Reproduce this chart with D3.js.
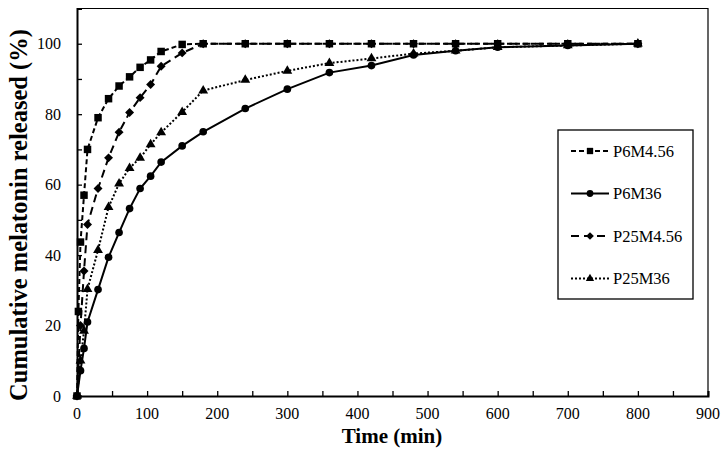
<!DOCTYPE html>
<html>
<head>
<meta charset="utf-8">
<script src="https://cdn.jsdelivr.net/npm/d3@7"></script>
<style>
  html, body { margin: 0; padding: 0; background: #fff; }
  svg { display: block; }
  text { font-family: "Liberation Serif", "Times New Roman", serif; fill: #000; }
</style>
</head>
<body>
<div id="chart"></div>
<script>
// ---------- data ----------
const timesA = [0, 2, 5, 10, 15, 30, 45, 60, 75, 90, 105, 120, 150, 180, 240, 300, 360, 420, 480, 540, 600, 700, 800];
const p6m456 = [0, 24, 43.7, 57, 70, 79, 84.4, 88, 90.6, 93.3, 95.4, 97.8, 99.8, 100, 100, 100, 100, 100, 100, 100, 100, 100, 100];

const timesB = [0, 5, 10, 15, 30, 45, 60, 75, 90, 105, 120, 150, 180, 240, 300, 360, 420, 480, 540, 600, 700, 800];
const p6m36  = [0, 7.2, 13.5, 21, 30.2, 39.4, 46.4, 53.2, 58.9, 62.4, 66.4, 71, 75, 81.6, 87.1, 91.8, 93.8, 96.8, 98, 99, 99.5, 100];
const p25m456 = [0, 20, 35.5, 48.7, 58.9, 67.6, 74.9, 80.5, 84.7, 88.4, 93.6, 97.4, 100, 100, 100, 100, 100, 100, 100, 100, 100, 100];
const p25m36 = [0, 10, 18.5, 30.3, 41.4, 53.6, 60.3, 64.7, 67.6, 71.4, 74.8, 80.6, 86.7, 89.7, 92.3, 94.5, 95.8, 97.2, 98, 99, 99.5, 100];

const seriesNames = ["P6M4.56", "P6M36", "P25M4.56", "P25M36"];
const xTickLabels = [0, 100, 200, 300, 400, 500, 600, 700, 800, 900];
const yTickLabels = [0, 20, 40, 60, 80, 100];
const xTitle = "Time (min)";
const yTitle = "Cumulative melatonin released (%)";

// ---------- layout ----------
const W = 728, H = 460;
const x = d3.scaleLinear().domain([0, 900]).range([77, 708]);
const y = d3.scaleLinear().domain([0, 110]).range([396, 8.5]);

const svg = d3.select("#chart").append("svg").attr("width", W).attr("height", H);

// plot box (top and right)
svg.append("path")
  .attr("d", `M${x(0)},${y(110)}H${x(900)}V${y(0)}`)
  .attr("fill", "none").attr("stroke", "#000").attr("stroke-width", 1.2);

// axes with inward ticks
const xAxis = d3.axisBottom(x).tickValues(d3.range(0, 901, 50)).tickSize(-5).tickFormat("");
const yAxis = d3.axisLeft(y).tickValues(d3.range(0, 111, 10)).tickSize(-5).tickFormat("");

const gx = svg.append("g").attr("transform", `translate(0,${y(0)})`).call(xAxis);
const gy = svg.append("g").attr("transform", `translate(${x(0)},0)`).call(yAxis);
[gx, gy].forEach(g => {
  g.select(".domain").attr("stroke", "#000").attr("stroke-width", 2);
  g.selectAll(".tick line").attr("stroke", "#000").attr("stroke-width", 1.3);
});

// tick labels
svg.append("g").selectAll("text").data(xTickLabels).join("text")
  .attr("x", d => x(d)).attr("y", 419)
  .attr("text-anchor", "middle").attr("font-size", 16)
  .text(d => d);
svg.append("g").selectAll("text").data(yTickLabels).join("text")
  .attr("x", 61).attr("y", d => y(d)).attr("dy", "0.35em")
  .attr("text-anchor", "end").attr("font-size", 16)
  .text(d => d);

// titles
svg.append("text").attr("x", 392).attr("y", 443)
  .attr("text-anchor", "middle").attr("font-size", 21).attr("font-weight", "bold")
  .text(xTitle);
svg.append("text")
  .attr("transform", `translate(27,215) rotate(-90)`)
  .attr("text-anchor", "middle").attr("font-size", 24.5).attr("font-weight", "bold")
  .text(yTitle);

// ---------- symbols ----------
const sqType = { draw(ctx, s) { const r = Math.sqrt(s) / 2; ctx.moveTo(-r, -r); ctx.lineTo(r, -r); ctx.lineTo(r, r); ctx.lineTo(-r, r); ctx.closePath(); } };
const diaType = { draw(ctx, s) { const r = Math.sqrt(s) / Math.SQRT2; ctx.moveTo(0, -r); ctx.lineTo(r, 0); ctx.lineTo(0, r); ctx.lineTo(-r, 0); ctx.closePath(); } };

const series = [
  { name: seriesNames[0], t: timesA, v: p6m456, dash: "5,3", sym: sqType, size: 56, lsize: 40 },
  { name: seriesNames[1], t: timesB, v: p6m36, dash: null, sym: d3.symbolCircle, size: 46, lsize: 36 },
  { name: seriesNames[2], t: timesB, v: p25m456, dash: "8,5", sym: diaType, size: 40, lsize: 30 },
  { name: seriesNames[3], t: timesB, v: p25m36, dash: "2,2", sym: d3.symbolTriangle, size: 42, lsize: 30 }
];

const line = d3.line().x(d => x(d[0])).y(d => y(d[1]));

// draw in reverse so squares end up on top
series.slice().reverse().forEach(s => {
  const pts = s.t.map((t, i) => [t, s.v[i]]);
  svg.append("path").datum(pts)
    .attr("d", line).attr("fill", "none").attr("stroke", "#000")
    .attr("stroke-width", 2).attr("stroke-dasharray", s.dash);
  svg.append("g").selectAll("path").data(pts).join("path")
    .attr("transform", d => `translate(${x(d[0])},${y(d[1])})`)
    .attr("d", d3.symbol().type(s.sym).size(s.size))
    .attr("fill", "#000");
});

// ---------- legend ----------
const lg = svg.append("g");
lg.append("rect").attr("x", 558).attr("y", 130).attr("width", 135).attr("height", 169)
  .attr("fill", "#fff").attr("stroke", "#000").attr("stroke-width", 1.3);
const legY = [151, 193.5, 236, 278.5];
series.forEach((s, i) => {
  const ly = legY[i];
  lg.append("line").attr("x1", 571).attr("x2", 609).attr("y1", ly).attr("y2", ly)
    .attr("stroke", "#000").attr("stroke-width", 2).attr("stroke-dasharray", s.dash);
  lg.append("path").attr("transform", `translate(590,${ly})`)
    .attr("d", d3.symbol().type(s.sym).size(s.lsize)).attr("fill", "#000");
  lg.append("text").attr("x", 613).attr("y", ly).attr("dy", "0.35em")
    .attr("font-size", 16.5).text(s.name);
});
</script>
</body>
</html>
